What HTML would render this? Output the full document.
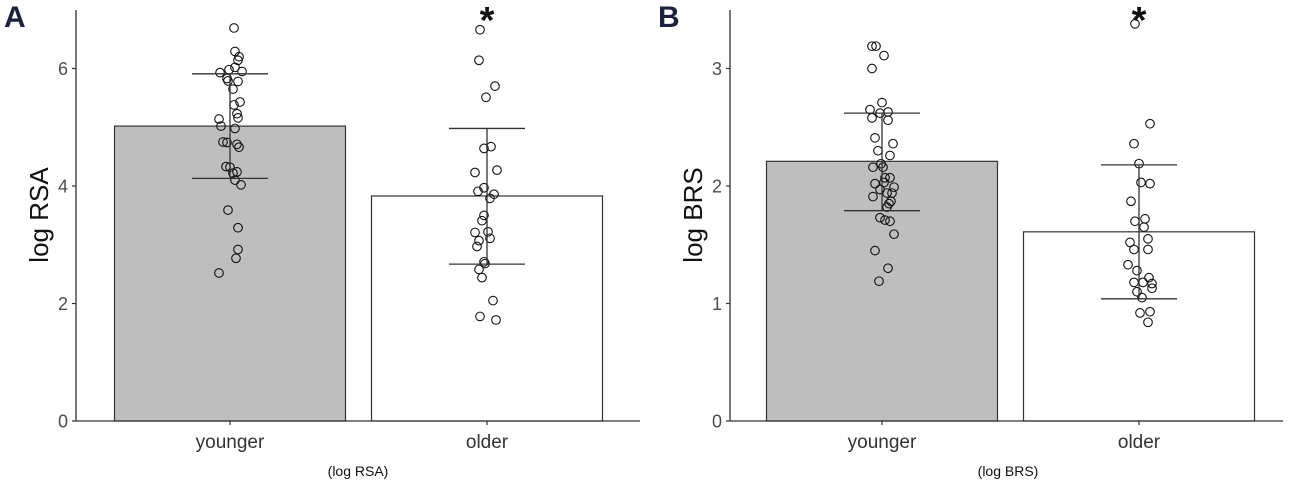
<!DOCTYPE html>
<html><head><meta charset="utf-8"><style>
body{margin:0;background:#fff;}
svg{display:block;font-family:"Liberation Sans",sans-serif;}
</style></head><body>
<svg id="chart" width="1299" height="488" viewBox="0 0 1299 488"></svg>
<script>
// Panel A data (log RSA)
const catsA = ["younger","older"];
const meansA = [5.02, 3.83];
const errLoA = [4.13, 2.67];
const errHiA = [5.91, 4.98];
const ticksA = [0,2,4,6];
const youngA = [6.69,6.29,6.2,6.14,5.98,6.02,5.95,5.93,5.83,5.79,5.78,5.65,5.43,5.38,5.23,5.16,5.14,5.02,4.98,4.75,4.74,4.71,4.66,4.33,4.32,4.24,4.22,4.10,4.02,3.59,3.29,2.92,2.77,2.52];
const youngAJit = [4,5,9,8,-1,5,12,-10,-3,-2,8,3,10,4,7,8,-11,-9,5,-7,-3,7,9,-4,0,7,3,5,11,-2,8,8,6,-11];
const oldA = [6.66,6.14,5.70,5.51,4.64,4.67,4.23,4.27,3.91,3.97,3.86,3.79,3.50,3.41,3.21,3.22,3.11,3.07,2.97,2.71,2.68,2.58,2.44,2.05,1.78,1.72];
const oldAJit = [-7,-8,8,-1,-3,4,-12,10,-9,-3,7,3,-3,-5,-12,1,3,-8,-10,-3,-2,-8,-5,6,-7,9];
// Panel B data (log BRS)
const catsB = ["younger","older"];
const meansB = [2.21, 1.61];
const errLoB = [1.79, 1.04];
const errHiB = [2.62, 2.18];
const ticksB = [0,1,2,3];
const youngB = [3.19,3.19,3.11,3.00,2.71,2.65,2.62,2.63,2.58,2.56,2.41,2.36,2.30,2.26,2.16,2.16,2.19,2.07,2.07,2.02,2.03,1.99,1.97,1.94,1.94,1.91,1.87,1.85,1.82,1.73,1.71,1.70,1.59,1.45,1.30,1.19];
const youngBJit = [-10,-6,2,-10,0,-12,-2,6,-10,6,-7,11,-4,8,-9,1,-1,3,8,-7,2,12,-2,5,10,-9,9,7,5,-2,3,8,12,-7,6,-3];
const oldB = [3.38,2.53,2.36,2.19,2.03,2.02,1.87,1.70,1.72,1.65,1.55,1.52,1.46,1.46,1.33,1.28,1.22,1.18,1.18,1.17,1.13,1.10,1.05,0.92,0.93,0.84];
const oldBJit = [-4,11,-5,0,2,11,-8,-4,6,5,9,-9,-5,9,-11,-2,10,-5,4,13,13,-2,3,1,11,9];

const NS="http://www.w3.org/2000/svg";
const svg=document.getElementById('chart');
function mk(tag,attrs,parent,name,inter){const e=document.createElementNS(NS,tag);for(const k in attrs)e.setAttribute(k,attrs[k]);


(parent||svg).appendChild(e);return e;}

function panel(o){
  const g=mk('g',{},svg,o.name,false);
  const y=v=>421-(v-0)*o.scale;
  const band=o.band;
  const xc=i=>o.x0+band*(i+0.5);
  o.cats.forEach((c,i)=>{
    mk('rect',{x:xc(i)-115.5,y:y(o.means[i]),width:231,height:421-y(o.means[i]),fill:i==0?'#bebebe':'#fff',stroke:'#333','stroke-width':1.2},g,'bar-'+c,true);
  });
  const pts=[[o.young,o.yj],[o.old,o.oj]];
  pts.forEach((p,i)=>p[0].forEach((v,j)=>{
    mk('circle',{cx:xc(i)+p[1][j],cy:y(v),r:4.3,fill:'none',stroke:'#111','stroke-width':1.1},g,'point-'+o.cats[i],true);
  }));
  o.cats.forEach((c,i)=>{
    const x=xc(i);
    mk('line',{x1:x,x2:x,y1:y(o.lo[i]),y2:y(o.hi[i]),stroke:'#333','stroke-width':1.3},g,'error-bar-'+c,false);
    mk('line',{x1:x-38,x2:x+38,y1:y(o.lo[i]),y2:y(o.lo[i]),stroke:'#333','stroke-width':1.3},g,'error-cap-low-'+c,false);
    mk('line',{x1:x-38,x2:x+38,y1:y(o.hi[i]),y2:y(o.hi[i]),stroke:'#333','stroke-width':1.3},g,'error-cap-high-'+c,false);
    const t=mk('text',{x:x,y:448,'text-anchor':'middle','font-size':19,fill:'#333'},g,'x-tick-label-'+c,false);t.textContent=c;
  });
  mk('line',{x1:o.ax,x2:o.ax,y1:10,y2:421,stroke:'#333','stroke-width':1.3},g,'y-axis',false);
  mk('line',{x1:o.ax,x2:o.xend,y1:421,y2:421,stroke:'#333','stroke-width':1.3},g,'x-axis',false);
  o.ticks.forEach(t=>{
    mk('line',{x1:o.ax-4,x2:o.ax,y1:y(t),y2:y(t),stroke:'#333','stroke-width':1.2},g,'y-tick',false);
    const tx=mk('text',{x:o.ax-8,y:y(t)+6.5,'text-anchor':'end','font-size':18,fill:'#4d4d4d'},g,'y-tick-label',false);tx.textContent=t;
  });
  o.cats.forEach((c,i)=>{
    mk('line',{x1:xc(i),x2:xc(i),y1:421,y2:425,stroke:'#333','stroke-width':1.2},g,'x-tick',false);
  });
  const yt=mk('text',{x:0,y:0,transform:`translate(${o.ax-28},215) rotate(-90)`,'text-anchor':'middle','font-size':26,fill:'#111'},g,'y-axis-title',false);yt.textContent=o.ytitle;
  const pl=mk('text',{x:o.ax-72,y:27,'font-size':30,'font-weight':'bold',fill:'#1b2140'},g,'panel-label',false);pl.textContent=o.label;
  const ast=mk('text',{x:xc(1),y:33,'text-anchor':'middle','font-size':38,'font-weight':'bold',fill:'#111'},g,'significance-asterisk',false);ast.textContent='*';
  const cap=mk('text',{x:o.capx,y:476,'text-anchor':'middle','font-size':14,fill:'#111'},g,'caption',false);cap.textContent=o.caption;
}
panel({name:'panel-a',label:'A',ytitle:'log RSA',caption:'(log RSA)',capx:358,cats:catsA,means:meansA,lo:errLoA,hi:errHiA,ticks:ticksA,young:youngA,yj:youngAJit,old:oldA,oj:oldAJit,scale:58.75,ax:76,xend:640,x0:101.5,band:257});
panel({name:'panel-b',label:'B',ytitle:'log BRS',caption:'(log BRS)',capx:1008,cats:catsB,means:meansB,lo:errLoB,hi:errHiB,ticks:ticksB,young:youngB,yj:youngBJit,old:oldB,oj:oldBJit,scale:117.5,ax:730,xend:1283,x0:753.5,band:257});
</script>
</body></html>
